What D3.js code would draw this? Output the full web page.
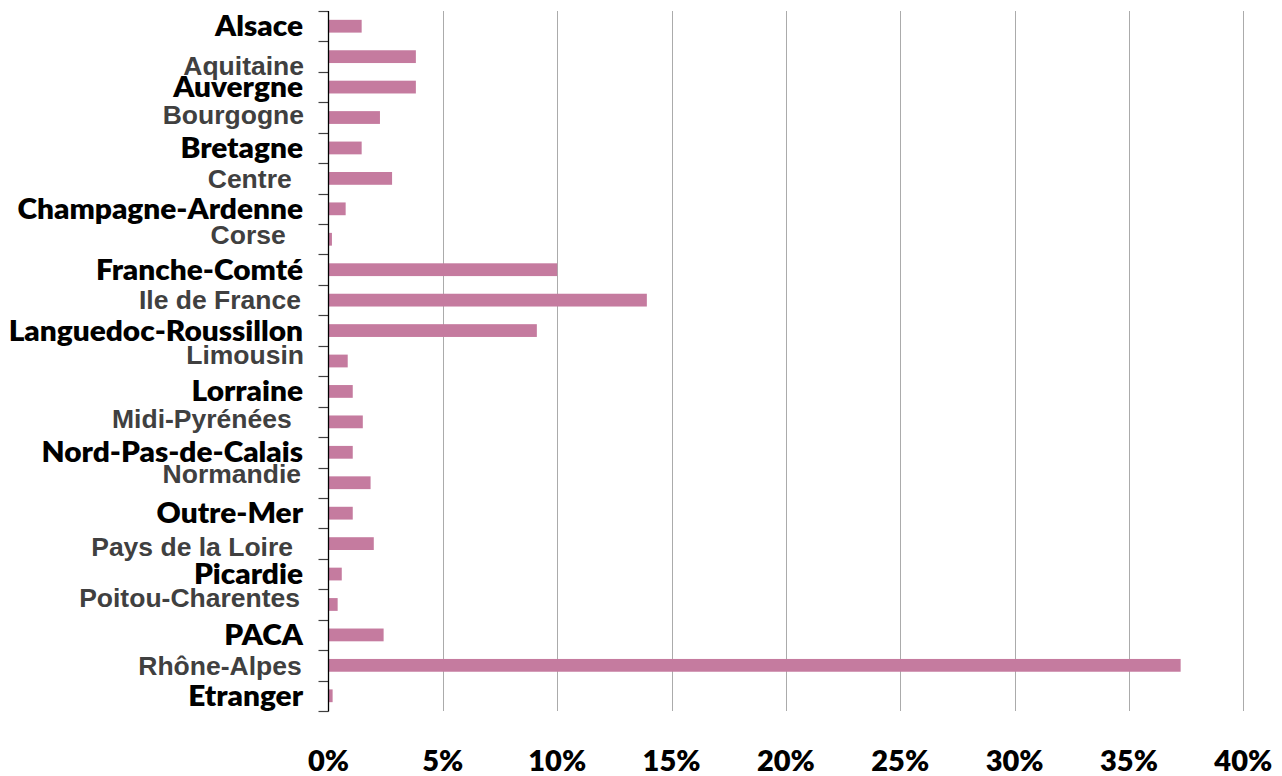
<!DOCTYPE html>
<html>
<head>
<meta charset="utf-8">
<script src="https://cdn.jsdelivr.net/npm/d3@7/dist/d3.min.js"></script>
<style>
  html, body { margin: 0; padding: 0; background: #fff; }
  svg { display: block; }
</style>
</head>
<body>
<svg id="chart" width="1282" height="776"></svg>
<script>
// ---- data ----
const regions = [
  "Alsace", "Aquitaine", "Auvergne", "Bourgogne", "Bretagne", "Centre",
  "Champagne-Ardenne", "Corse", "Franche-Comté", "Ile de France",
  "Languedoc-Roussillon", "Limousin", "Lorraine", "Midi-Pyrénées",
  "Nord-Pas-de-Calais", "Normandie", "Outre-Mer", "Pays de la Loire",
  "Picardie", "Poitou-Charentes", "PACA", "Rhône-Alpes", "Etranger"
];
const shares = [
  1.45, 3.82, 3.82, 2.25, 1.45, 2.78,
  0.75, 0.15, 10.0, 13.92,
  9.11, 0.84, 1.06, 1.5,
  1.06, 1.84, 1.06, 1.98,
  0.58, 0.4, 2.41, 37.26, 0.18
];
const tickValues = [0, 5, 10, 15, 20, 25, 30, 35, 40];
const tickLabels = ["0%", "5%", "10%", "15%", "20%", "25%", "30%", "35%", "40%"];

// ---- layout / style (not data) ----
// label style: alternating "b" (black, Calibri-like) and "g" (grey, Arial-like)
const labelStyle = regions.map((d, i) => i % 2 === 0 ? "b" : "g");
// small per-label nudges [dx, dy] as in the reference
const labelNudge = [
  [0, 0], [1, 8.9], [0, 0], [1, -2.8], [0, 0], [-11.3, 0.6],
  [0, 0], [-17.3, -5.2], [0, 0], [-2, -1],
  [0, 0], [1, -7], [0, 0], [-11.3, -3],
  [0, 0], [-2, -9.7], [0, 0], [-10, 2.4],
  [0, 0], [-3, -6.5], [0, 0], [-1.3, 0.6], [0, 0]
];

const svg = d3.select("#chart");
const x0 = 328.5, x1 = 1243.3, yTop = 11, yBot = 711;

const x = d3.scaleLinear().domain([0, 40]).range([x0, x1]);
const y = d3.scaleBand().domain(regions).range([yTop, yBot])
  .paddingInner(0.58).paddingOuter(0.29);

// gridlines
svg.append("g").selectAll("line")
  .data(tickValues.filter(v => v > 0))
  .join("line")
  .attr("x1", d => Math.round(x(d)) + 0.5).attr("x2", d => Math.round(x(d)) + 0.5)
  .attr("y1", yTop).attr("y2", yBot)
  .attr("stroke", "#ababab").attr("stroke-width", 1);

// bars
svg.append("g").selectAll("rect")
  .data(regions)
  .join("rect")
  .attr("x", x(0) + 0.5)
  .attr("y", d => y(d))
  .attr("width", (d, i) => x(shares[i]) - x(0) - 0.5)
  .attr("height", y.bandwidth())
  .attr("fill", "#c57b9f");

// category axis line + boundary ticks
const step = y.step();
const bounds = regions.map(d => y(d) - step * y.paddingInner() / 2).concat([yBot]);
svg.append("g").selectAll("line")
  .data(bounds)
  .join("line")
  .attr("x1", x0 - 10).attr("x2", x0)
  .attr("y1", d => Math.round(d) + 0.5).attr("y2", d => Math.round(d) + 0.5)
  .attr("stroke", "#404040").attr("stroke-width", 1.2);
svg.append("line")
  .attr("x1", x0).attr("x2", x0)
  .attr("y1", yTop).attr("y2", yBot + 0.5)
  .attr("stroke", "#000").attr("stroke-width", 1.3);

// category labels
svg.append("g").selectAll("text")
  .data(regions)
  .join("text")
  .attr("text-anchor", "end")
  .attr("transform", (d, i) => {
    const c = y(d) + y.bandwidth() / 2;
    if (labelStyle[i] === "b") {
      return `translate(303,${c + 10}) scale(1.065,1)`;
    }
    return `translate(${303 + labelNudge[i][0]},${c + 9.5 + labelNudge[i][1]})`;
  })
  .attr("font-family", (d, i) => labelStyle[i] === "b" ? "Lato, 'Open Sans', sans-serif" : "'Liberation Sans', Arial, sans-serif")
  .attr("font-weight", (d, i) => labelStyle[i] === "b" ? 800 : "bold")
  .attr("font-size", (d, i) => labelStyle[i] === "b" ? 28 : 26.5)
  .attr("fill", (d, i) => labelStyle[i] === "b" ? "#000" : "#404040")
  .text(d => d);

// value axis labels
svg.append("g").selectAll("text")
  .data(tickValues)
  .join("text")
  .attr("x", d => x(d))
  .attr("y", 771)
  .attr("text-anchor", "middle")
  .attr("font-family", "Lato, 'Open Sans', sans-serif")
  .attr("font-weight", 800)
  .attr("font-size", 29)
  .attr("fill", "#000")
  .text((d, i) => tickLabels[i]);
</script>
</body>
</html>
